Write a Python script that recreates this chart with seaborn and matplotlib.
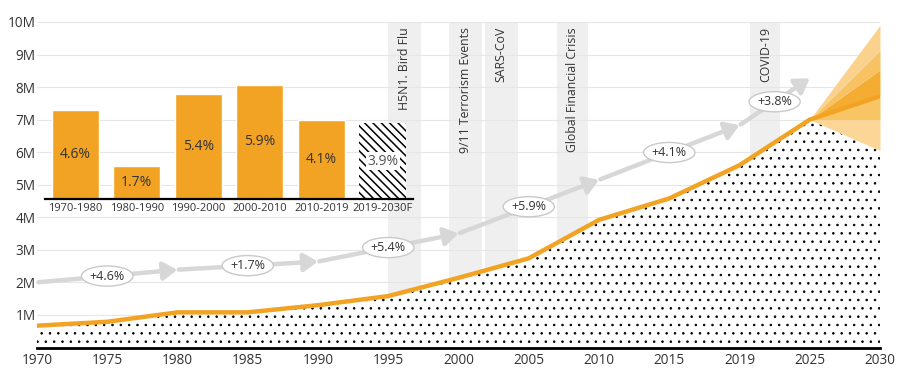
import numpy as np
import pandas as pd
import matplotlib
matplotlib.use("Agg")
import matplotlib.pyplot as plt
import seaborn as sns

# ---------------- data ----------------
tick_years = [1970, 1975, 1980, 1985, 1990, 1995, 2000, 2005, 2010, 2015, 2019, 2025, 2030]
tick_labels = [str(y) for y in tick_years]
values_m = [0.67, 0.79, 1.08, 1.08, 1.30, 1.58, 2.14, 2.74, 3.92, 4.58, 5.60, 7.00, 7.72]

# forecast fan boundaries at 2030 (millions), lowest to highest
fan_2030 = [6.05, 7.00, 7.72, 8.53, 9.13, 9.90]
fan_colors = ["#FBD697", "#F9C564", "#F5AC33", "#F8C263", "#FAD28E"]

arrow_years = [1970, 1980, 1990, 2000, 2010, 2019, 2025]
arrow_values = [2.00, 2.39, 2.64, 3.50, 5.15, 6.83, 8.27]
arrow_labels = ["+4.6%", "+1.7%", "+5.4%", "+5.9%", "+4.1%", "+3.8%"]

events = ["H5N1. Bird Flu", "9/11 Terrorism Events", "SARS-CoV",
          "Global Financial Crisis", "COVID-19"]
event_start = [1995.0, 1999.3, 2001.9, 2007.0, 2019.9]
event_end = [1997.3, 2001.7, 2004.2, 2009.2, 2022.5]

y_ticks = [1, 2, 3, 4, 5, 6, 7, 8, 9, 10]
y_labels = [f"{v}M" for v in y_ticks]

periods = ["1970-1980", "1980-1990", "1990-2000", "2000-2010", "2010-2019", "2019-2030F"]
cagr = [4.6, 1.7, 5.4, 5.9, 4.1, 3.9]

# ---------------- style ----------------
sns.set_theme(style="white")
plt.rcParams["font.family"] = ["Open Sans", "DejaVu Sans"]
plt.rcParams["hatch.color"] = "black"

ORANGE = "#F2A324"
GRAY_ARROW = "#D7D7D7"
TXT = "#333333"

fig = plt.figure(figsize=(9, 3.75), dpi=100)
ax = fig.add_axes([37 / 900, 27.5 / 375, 843 / 900, 325.5 / 375])

pos = np.arange(len(tick_years))
def to_pos(y):
    return np.interp(y, tick_years, pos)

ax.set_xlim(0, len(tick_years) - 1)
ax.set_ylim(0, 10)

# event bands
for name, s, e in zip(events, event_start, event_end):
    ps, pe = to_pos(s), to_pos(e)
    ax.axvspan(ps, pe, color="#EFEFEF", lw=0, zorder=0.2)
    ax.text((ps + pe) / 2, 9.85, name, rotation=90, ha="center", va="top",
            fontsize=8.8, color=TXT, zorder=3)

# dotted area under the line (down to the low forecast at 2030)
area_top = list(values_m[:-1]) + [fan_2030[0]]
with plt.rc_context({"hatch.linewidth": 0.6}):
    ax.fill_between(pos, 0, area_top, facecolor="white", edgecolor="black",
                    hatch="..", linewidth=0, zorder=1)

# forecast fan
apex = values_m[-2]
for lo, hi, c in zip(fan_2030[:-1], fan_2030[1:], fan_colors):
    ax.fill_between(pos[-2:], [apex, lo], [apex, hi], color=c, lw=0, zorder=1.5)

# main line
df = pd.DataFrame({"pos": pos, "val": values_m})
sns.lineplot(data=df, x="pos", y="val", color=ORANGE, lw=3.2, ax=ax, zorder=4)

# grey growth arrows
apos = to_pos(arrow_years)
for i in range(len(arrow_years) - 1):
    ax.annotate("", xy=(apos[i + 1], arrow_values[i + 1]), xytext=(apos[i], arrow_values[i]),
                arrowprops=dict(arrowstyle="-|>,head_length=0.7,head_width=0.45",
                                color=GRAY_ARROW, lw=3.2, shrinkA=1, shrinkB=0,
                                mutation_scale=12), zorder=2)
    mx = (apos[i] + apos[i + 1]) / 2
    my = (arrow_values[i] + arrow_values[i + 1]) / 2
    ax.text(mx, my, arrow_labels[i], ha="center", va="center", fontsize=9, color=TXT,
            zorder=5, bbox=dict(boxstyle="ellipse,pad=0.05", fc="white", ec="#C9C9C9", lw=1))

# axes styling
ax.set_xticks(pos)
ax.set_xticklabels(tick_labels, fontsize=9.8, color=TXT)
ax.set_yticks(y_ticks)
ax.set_yticklabels(y_labels, fontsize=9.8, color=TXT)
ax.tick_params(axis="both", length=0)
ax.tick_params(axis="x", pad=4)
ax.tick_params(axis="y", pad=1)
ax.grid(axis="y", color="#E6E6E6", lw=0.8)
ax.set_axisbelow(True)
for s in ["top", "right", "left"]:
    ax.spines[s].set_visible(False)
ax.spines["bottom"].set_color("black")
ax.spines["bottom"].set_linewidth(2)
ax.spines["bottom"].set_zorder(6)
ax.set_xlabel("")
ax.set_ylabel("")

# ---------------- inset bar chart ----------------
axin = fig.add_axes([45 / 900, (375 - 199.3) / 375, 368 / 900, 116.7 / 375])
axin.patch.set_alpha(0)
bdf = pd.DataFrame({"period": periods, "cagr": cagr})
with plt.rc_context({"hatch.linewidth": 1.1}):
    sns.barplot(data=bdf, x="period", y="cagr", color=ORANGE, saturation=1,
                width=0.76, ax=axin, zorder=2)
    last = axin.patches[len(periods) - 1]
    last.set_facecolor("white")
    last.set_edgecolor("black")
    last.set_linewidth(0)
    last.set_hatch("\\\\\\\\")
axin.set_xlim(-0.49, len(periods) - 0.51)
axin.set_ylim(0, 6.0)
for i, v in enumerate(cagr):
    if i == len(cagr) - 1:
        axin.text(i, v / 2, f"{v}%", ha="center", va="center", fontsize=10, color="#555555",
                  zorder=5, bbox=dict(boxstyle="square,pad=0.1", fc="white", ec="none"))
    else:
        axin.text(i, v / 2, f"{v}%", ha="center", va="center", fontsize=10, color=TXT, zorder=5)
axin.set_yticks([])
axin.set_xlabel("")
axin.set_ylabel("")
axin.tick_params(axis="x", length=0, pad=3, labelsize=8, labelcolor=TXT)
for s in ["top", "right", "left"]:
    axin.spines[s].set_visible(False)
axin.spines["bottom"].set_color("black")
axin.spines["bottom"].set_linewidth(1.6)

fig.savefig("out.png", dpi=100)
